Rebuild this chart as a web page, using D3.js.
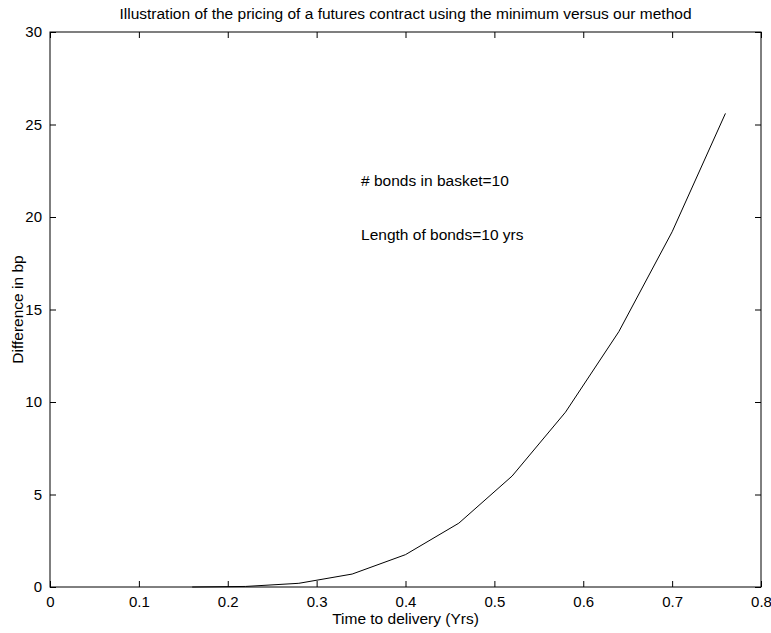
<!DOCTYPE html>
<html>
<head>
<meta charset="utf-8">
<script src="https://cdn.jsdelivr.net/npm/d3@7"></script>
<style>
body{margin:0;background:#fff;}
text{font-family:"Liberation Sans",Arial,sans-serif;}
</style>
</head>
<body>
<div id="my_dataviz"></div>
<script>
// data
let times = [0.16, 0.22, 0.28, 0.34, 0.40, 0.46, 0.52, 0.58, 0.64, 0.70, 0.76];
let diffBp = [0, 0.03, 0.2, 0.7, 1.75, 3.45, 6.0, 9.45, 13.8, 19.2, 25.6];
let xTicks = [0, 0.1, 0.2, 0.3, 0.4, 0.5, 0.6, 0.7, 0.8];
let yTicks = [0, 5, 10, 15, 20, 25, 30];
let notes = [
  {x: 0.35, y: 21.7, text: "# bonds in basket=10"},
  {x: 0.35, y: 18.75, text: "Length of bonds=10 yrs"}
];

let W = 771, H = 633;
let margin = {top: 32, right: 10, bottom: 46, left: 50};
let width = W - margin.left - margin.right;
let height = H - margin.top - margin.bottom;

let svg = d3.select("#my_dataviz")
  .append("svg")
    .attr("width", W)
    .attr("height", H)
  .append("g")
    .attr("transform", "translate(" + margin.left + "," + margin.top + ")");

let x = d3.scaleLinear().domain([0, 0.8]).range([0, width]);
let y = d3.scaleLinear().domain([0, 30]).range([height, 0]);

// box
svg.append("rect")
  .attr("width", width).attr("height", height)
  .attr("fill", "none").attr("stroke", "#000").attr("stroke-width", 1);

let fmt = d => d === 0 ? "0" : String(d);

// bottom axis (ticks point inward)
let xb = svg.append("g")
  .attr("transform", "translate(0," + height + ")")
  .call(d3.axisBottom(x).tickValues(xTicks).tickFormat(fmt).tickSizeInner(-6).tickSizeOuter(0).tickPadding(9));
xb.select(".domain").remove();
xb.selectAll("text").style("font-size", "15px").attr("dy", "0.71em");

// top mirror ticks
let xt = svg.append("g")
  .call(d3.axisTop(x).tickValues(xTicks).tickFormat("").tickSizeInner(-6).tickSizeOuter(0));
xt.select(".domain").remove();

// left axis
let yl = svg.append("g")
  .call(d3.axisLeft(y).tickValues(yTicks).tickFormat(fmt).tickSizeInner(-6).tickSizeOuter(0).tickPadding(8));
yl.select(".domain").remove();
yl.selectAll("text").style("font-size", "15px");

// right mirror ticks
let yr = svg.append("g")
  .attr("transform", "translate(" + width + ",0)")
  .call(d3.axisRight(y).tickValues(yTicks).tickFormat("").tickSizeInner(-6).tickSizeOuter(0));
yr.select(".domain").remove();

// curve
let line = d3.line()
  .x((d, i) => x(times[i]))
  .y(d => y(d));
svg.append("path")
  .datum(diffBp)
  .attr("fill", "none")
  .attr("stroke", "#000")
  .attr("stroke-width", 1)
  .attr("d", line);

// annotations
svg.selectAll(".note")
  .data(notes)
  .enter().append("text")
    .attr("class", "note")
    .attr("x", d => x(d.x))
    .attr("y", d => y(d.y))
    .style("font-size", "15.5px")
    .text(d => d.text);

// title and axis labels
svg.append("text")
  .attr("x", width / 2).attr("y", -13)
  .attr("text-anchor", "middle")
  .style("font-size", "15.5px")
  .text("Illustration of the pricing of a futures contract using the minimum versus our method");

svg.append("text")
  .attr("x", width / 2).attr("y", height + 37)
  .attr("text-anchor", "middle")
  .style("font-size", "15.5px")
  .text("Time to delivery (Yrs)");

svg.append("text")
  .attr("transform", "rotate(-90)")
  .attr("x", -height / 2).attr("y", -27)
  .attr("text-anchor", "middle")
  .style("font-size", "15.5px")
  .text("Difference in bp");
</script>
</body>
</html>
